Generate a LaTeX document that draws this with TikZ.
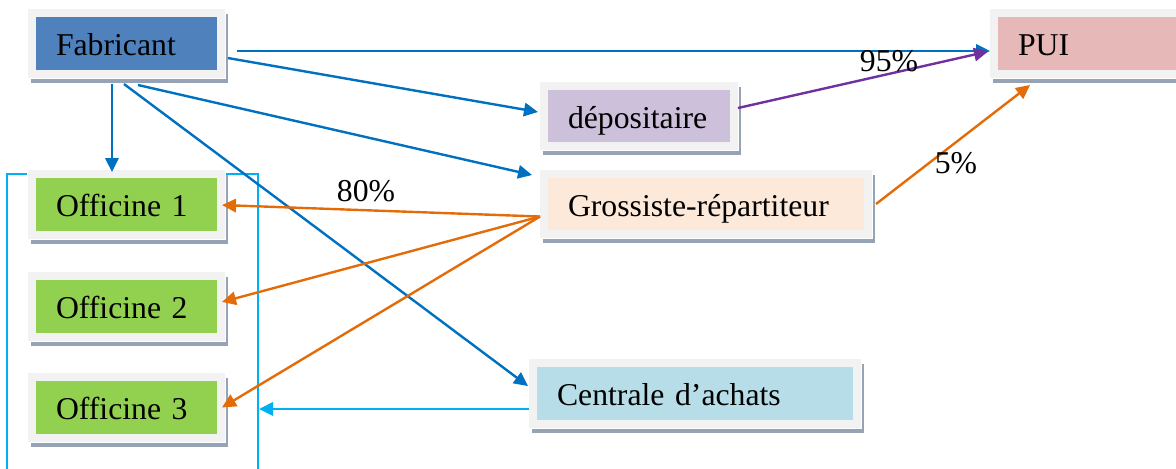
\documentclass[tikz,border=0pt]{standalone}
\usepackage{fontspec}
\setmainfont{Liberation Serif}
\usetikzlibrary{arrows.meta}
\definecolor{framec}{HTML}{F2F2F2}
\definecolor{shadowc}{HTML}{95A3B4}
\definecolor{fabc}{HTML}{4F81BD}
\definecolor{depc}{HTML}{CCC0DA}
\definecolor{groc}{HTML}{FDE9D9}
\definecolor{puic}{HTML}{E6B8B7}
\definecolor{offc}{HTML}{92D050}
\definecolor{cenc}{HTML}{B7DEE8}
\definecolor{bluec}{HTML}{0070C0}
\definecolor{orangec}{HTML}{E36C09}
\definecolor{purplec}{HTML}{7030A0}
\definecolor{cyanc}{HTML}{00B0F0}
\tikzset{
  boxnode/.style={rectangle, draw=framec, line width=6pt, inner xsep=18pt, inner ysep=0pt,
    text height=18pt, text depth=0pt, align=left, font=\fontsize{23.8}{28}\selectfont,
    preaction={draw=shadowc, fill=shadowc, line width=6pt, transform canvas={xshift=2.25pt, yshift=-3.75pt}},
    preaction={draw=white, line width=7.5pt}},
  arr/.style={line width=1.8pt, -{Triangle[length=10.5pt,width=10pt]}},
  lbl/.style={font=\fontsize{23.8}{28}\selectfont, inner sep=0pt}
}
\begin{document}
\begin{tikzpicture}[x=0.75pt, y=-0.75pt]
\useasboundingbox (0,0) rectangle (1176,468);
% group rectangle
\node[draw=cyanc, line width=1.5pt, minimum width=188.25pt, minimum height=229.5pt, inner sep=0pt] (grp) at (132.5,327) {};
% boxes
\node[boxnode, fill=fabc, minimum width=141.75pt, minimum height=45.75pt, text width=105.75pt] (fab) at (126.5,43.5) {Fabricant};
\node[boxnode, fill=puic, minimum width=140.25pt, minimum height=45.75pt, text width=104.25pt] (pui) at (1087.5,43.5) {PUI};
\node[boxnode, fill=depc, minimum width=142.5pt, minimum height=45pt, text width=106.5pt] (dep) at (639,116) {dépositaire};
\node[boxnode, fill=groc, minimum width=243pt, minimum height=45pt, text width=207pt] (gro) at (706,204) {Grossiste-répartiteur};
\node[boxnode, fill=offc, minimum width=141.75pt, minimum height=45.75pt, text width=105.75pt] (off1) at (126.5,204.5) {Officine 1};
\node[boxnode, fill=offc, minimum width=141.75pt, minimum height=45.75pt, text width=105.75pt] (off2) at (126.5,306.5) {Officine 2};
\node[boxnode, fill=offc, minimum width=141.75pt, minimum height=45.75pt, text width=105.75pt] (off3) at (126.5,407.5) {Officine 3};
\node[boxnode, fill=cenc, minimum width=243pt, minimum height=45.75pt, text width=207pt] (cen) at (695,393.5) {Centrale d’achats};
\coordinate (censtart) at ([yshift=-11.6pt]cen.west);
% connectors
\draw[arr, bluec] ([xshift=9pt,yshift=-5.6pt]fab.east) -- ([yshift=-5.6pt]pui.west);
\draw[arr, bluec] ([xshift=2.25pt,yshift=-10.9pt]fab.east) -- ([xshift=-1.5pt,yshift=3pt]dep.west);
\draw[arr, bluec] ([xshift=8.6pt,yshift=-5.25pt]fab.south) -- ([xshift=-6pt,yshift=-3.75pt]gro.north west);
\draw[arr, bluec] ([xshift=-10.9pt,yshift=-4.5pt]fab.south) -- ([xshift=-10.9pt,yshift=-1.5pt]off1.north);
\draw[arr, bluec] ([xshift=-1.9pt,yshift=-4.5pt]fab.south) -- ([xshift=-0.75pt,yshift=5.6pt]cen.west);
\draw[arr, purplec] ([yshift=6pt]dep.east) -- ([xshift=-1.5pt,yshift=-6pt]pui.west);
\draw[arr, orangec] ([xshift=3pt]gro.east) -- ([xshift=-43.1pt,yshift=-5.25pt]pui.south);
\draw[arr, orangec] ([yshift=-9.4pt]gro.west) -- ([xshift=-2.25pt,yshift=-0.4pt]off1.east);
\draw[arr, orangec] ([yshift=-9.4pt]gro.west) -- ([xshift=-2.25pt,yshift=3.4pt]off2.east);
\draw[arr, orangec] ([yshift=-9.4pt]gro.west) -- ([xshift=-2.25pt]off3.east);
\draw[arr, cyanc] (censtart) -- (grp.east |- censtart);
% labels
\node[lbl] (l95) at (889,61) {95\%};
\node[lbl] (l80) at (366,191) {80\%};
\node[lbl] (l5) at (956,163) {5\%};
\end{tikzpicture}
\end{document}
